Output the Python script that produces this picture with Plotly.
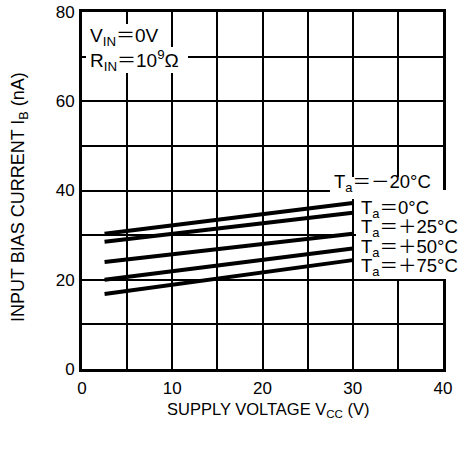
import plotly.graph_objects as go

# ---- data ----
vcc = [2.5, 30]
series_names = ["T<sub>a</sub>＝－20°C", "T<sub>a</sub>＝0°C", "T<sub>a</sub>＝＋25°C",
                "T<sub>a</sub>＝＋50°C", "T<sub>a</sub>＝＋75°C"]
ib_m20 = [30.3, 37.2]
ib_0 = [28.5, 35.0]
ib_25 = [24.0, 30.3]
ib_50 = [20.0, 27.0]
ib_75 = [16.8, 24.4]
series_values = [ib_m20, ib_0, ib_25, ib_50, ib_75]

x_tickvals = [0, 5, 10, 15, 20, 25, 30, 35, 40]
x_ticktext = ["0", "", "10", "", "20", "", "30", "", "40"]
y_tickvals = [0, 10, 20, 30, 40, 50, 60, 70, 80]
y_ticktext = ["0", "", "20", "", "40", "", "60", "", "80"]

FONT = "Liberation Sans, Arial, Helvetica, Noto Sans CJK JP, sans-serif"

fig = go.Figure()
for name, vals in zip(series_names, series_values):
    fig.add_trace(go.Scatter(x=vcc, y=vals, mode="lines", name=name,
                             line=dict(color="black", width=4), showlegend=False))

axis_common = dict(showline=True, mirror=True, linewidth=3, linecolor="black",
                   showgrid=True, gridcolor="black", gridwidth=1.5, zeroline=False,
                   automargin=False, ticklabeloverflow="allow",
                   ticks="outside", tickcolor="rgba(0,0,0,0)",
                   tickfont=dict(family=FONT, size=17, color="black"))

fig.update_layout(
    width=459, height=450,
    margin=dict(l=82, r=16, t=12, b=81),
    paper_bgcolor="white", plot_bgcolor="white",
    font=dict(family=FONT, color="black"),
    xaxis=dict(range=[0, 40], tickvals=x_tickvals, ticktext=x_ticktext,
               ticklen=2, **axis_common),
    yaxis=dict(range=[0, 80], tickvals=y_tickvals, ticktext=y_ticktext,
               ticklen=1, **axis_common),
)

def px_x(p):
    return (p - 82) / 361.0

def px_y(p):
    return (369 - p) / 357.0

# white masks behind labels
masks = [
    (330, 436, 177, 199),
    (356, 459, 190, 279),
    (86, 165, 24, 47),
    (86, 188, 47, 73),
]
for x0, x1, y0, y1 in masks:
    fig.add_shape(type="rect", xref="paper", yref="paper",
                  x0=px_x(x0), x1=px_x(x1), y0=px_y(y1), y1=px_y(y0),
                  fillcolor="white", line=dict(width=0), layer="above")

# series labels
label_pos = [(332, 183), (359, 209), (359, 228), (359, 248), (359, 267)]
for name, (lx, ly) in zip(series_names, label_pos):
    fig.add_annotation(xref="paper", yref="paper", x=px_x(lx), y=px_y(ly),
                       xanchor="left", yanchor="middle", showarrow=False,
                       text=name, font=dict(family=FONT, size=18.5, color="black"))

# condition text
fig.add_annotation(xref="paper", yref="paper", x=px_x(88), y=px_y(37),
                   xanchor="left", yanchor="middle", showarrow=False,
                   text="V<sub>IN</sub>＝0V", font=dict(family=FONT, size=19, color="black"))
fig.add_annotation(xref="paper", yref="paper", x=px_x(88), y=px_y(61),
                   xanchor="left", yanchor="middle", showarrow=False,
                   text="R<sub>IN</sub>＝10<sup>9</sup>Ω", font=dict(family=FONT, size=19, color="black"))

# axis titles
fig.add_annotation(xref="paper", yref="paper", x=px_x(268), y=px_y(410),
                   xanchor="center", yanchor="middle", showarrow=False,
                   text="SUPPLY VOLTAGE V<sub>CC</sub> (V)",
                   font=dict(family=FONT, size=16.5, color="black"))
fig.add_annotation(xref="paper", yref="paper", x=px_x(20), y=px_y(197),
                   xanchor="center", yanchor="middle", showarrow=False, textangle=-90,
                   text="INPUT BIAS CURRENT I<sub>B</sub> (nA)",
                   font=dict(family=FONT, size=18, color="black"))

# remove the browser's default 8px body margin so the figure sits at the page corner
fig.write_html("out.html", config={"displayModeBar": False},
               post_script="document.body.style.margin='0px';")
